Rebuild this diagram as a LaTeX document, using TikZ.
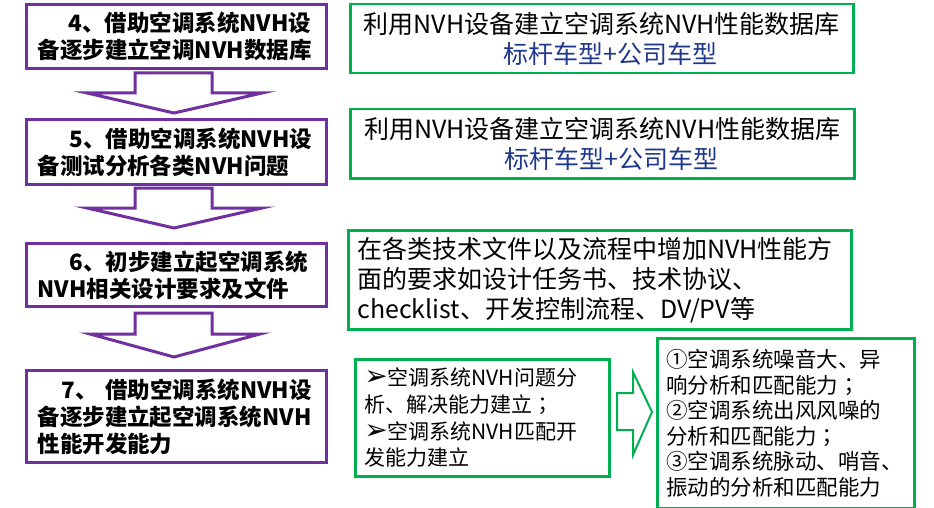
\documentclass[tikz,border=0pt]{standalone}
\usepackage{fontspec}
\setmainfont{Noto Sans CJK SC}
\newfontfamily\symf{DejaVu Sans}
\newfontfamily\tcf{Noto Sans CJK TC}
\newcommand{\myarr}{{\symf\fontsize{28}{26}\selectfont ➢}}
\newcommand{\mysemi}{{\tcf ；}}
\definecolor{pur}{RGB}{112,48,160}
\definecolor{grn}{RGB}{0,176,80}
\definecolor{navy}{RGB}{31,56,140}
\begin{document}
\begin{tikzpicture}[x=1pt,y=-1pt,
  lbox/.style={draw=pur, line width=3pt, rectangle, anchor=north west, inner xsep=11pt, inner ysep=0pt,
    minimum width=300pt, text width=278pt, align=left, font=\fontsize{22.5}{27}\selectfont\bfseries},
  rbox/.style={draw=grn, line width=2.5pt, rectangle, anchor=north west, inner xsep=9pt, inner ysep=0pt},
  parrow/.style={draw=pur, line width=3pt, line join=miter},
  garrow/.style={draw=grn, line width=2pt, line join=miter}]
\useasboundingbox (0,0) rectangle (934,508);
% left purple boxes
\node[lbox, minimum height=64pt] (l1) at (25,3) {\hspace*{31pt}4、借助空调系统NVH设\\备逐步建立空调NVH数据库};
\node[lbox, minimum height=65pt] (l2) at (25,118) {\hspace*{32pt}5、借助空调系统NVH设\\备测试分析各类NVH问题};
\node[lbox, minimum height=63pt] (l3) at (25,242) {\hspace*{32pt}6、初步建立起空调系统\\NVH相关设计要求及文件};
\node[lbox, minimum height=92pt] (l4) at (25,369) {\hspace*{24pt}7、 借助空调系统NVH设\\备逐步建立起空调系统NVH\\性能开发能力};
% purple block arrows
\draw[parrow] (135,73) -- (212,73) -- (212,93) -- (262,93) -- (174,113) -- (87,93) -- (135,93) -- cycle;
\draw[parrow] (135,188) -- (212,188) -- (212,208) -- (262,208) -- (174,228) -- (87,208) -- (135,208) -- cycle;
\draw[parrow] (135,313) -- (212,313) -- (212,334) -- (260,334) -- (174,357) -- (90,334) -- (135,334) -- cycle;
% right green boxes
\node[rbox, minimum width=503pt, minimum height=69pt, text width=485pt, align=center,
  font=\fontsize{25}{30}\selectfont] (r1) at (349,3)
  {利用NVH设备建立空调系统NVH性能数据库\\\hspace*{18pt}{\color{navy}标杆车型+公司车型}};
\node[rbox, minimum width=504pt, minimum height=69pt, text width=486pt, align=center,
  font=\fontsize{25}{30}\selectfont] (r2) at (349,108)
  {利用NVH设备建立空调系统NVH性能数据库\\\hspace*{18pt}{\color{navy}标杆车型+公司车型}};
\node[rbox, minimum width=503pt, minimum height=99pt, text width=485pt, align=left,
  font=\fontsize{25}{30}\selectfont] (r3) at (347,229)
  {在各类技术文件以及流程中增加NVH性能方\\面的要求如设计任务书、技术协议、\\checklist、开发控制流程、DV/PV等};
\node[rbox, minimum width=254pt, minimum height=117pt, text width=236pt, align=left,
  font=\fontsize{21}{26.7}\selectfont] (r4) at (354,358)
  {\myarr 空调系统NVH问题分\\析、解决能力建立\mysemi\\\myarr 空调系统NVH匹配开\\发能力建立};
\node[rbox, minimum width=257pt, minimum height=170pt, text width=239pt, align=left,
  font=\fontsize{21.5}{25.6}\selectfont] (r5) at (656,337)
  {①空调系统噪音大、异\\响分析和匹配能力\mysemi\\②空调系统出风风噪的\\分析和匹配能力\mysemi\\③空调系统脉动、哨音、\\振动的分析和匹配能力};
% green block arrow
\draw[garrow] (617,393) -- (633,393) -- (633,372) -- (652,412) -- (633,455) -- (633,430) -- (617,430) -- cycle;
\end{tikzpicture}
\end{document}
